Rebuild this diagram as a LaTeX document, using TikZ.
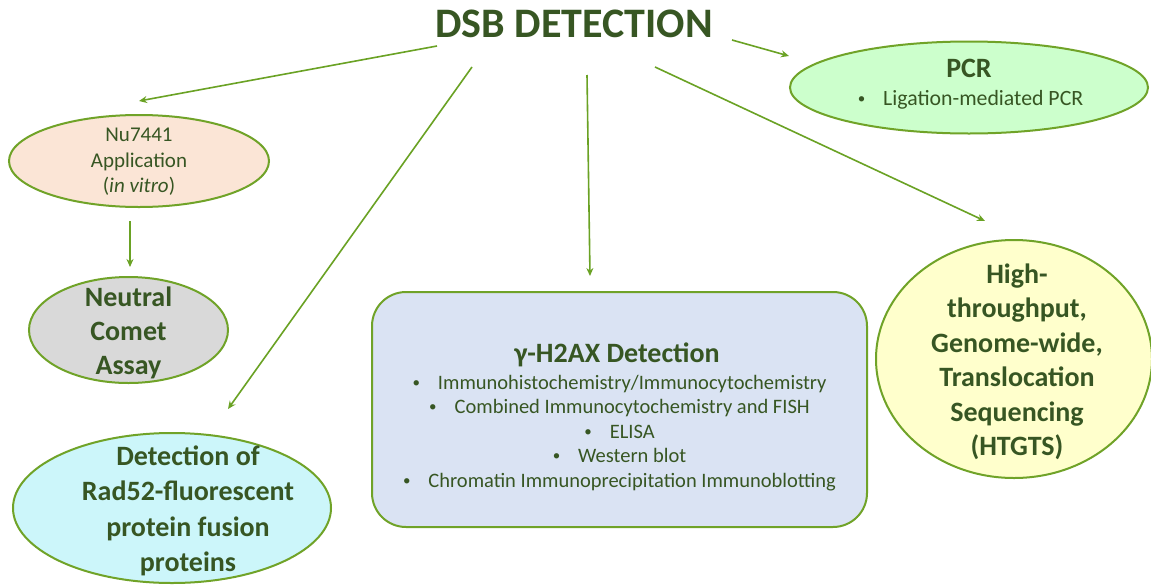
\documentclass[tikz,border=0pt]{standalone}
\usepackage{fontspec}
\setmainfont{Carlito}
\usetikzlibrary{shapes.geometric,arrows.meta,calc}
\definecolor{txtgreen}{RGB}{55,86,35}
\definecolor{edgegreen}{RGB}{112,163,40}
\definecolor{arrowgreen}{RGB}{106,162,36}
\definecolor{pcrfill}{RGB}{204,255,204}
\definecolor{nufill}{RGB}{251,229,214}
\definecolor{cometfill}{RGB}{217,217,217}
\definecolor{radfill}{RGB}{204,246,250}
\definecolor{boxfill}{RGB}{218,227,243}
\definecolor{htfill}{RGB}{255,255,204}
% small list bullet followed by its gap
\newcommand{\itembullet}{\raisebox{1.6pt}{\fontsize{15}{15}\selectfont •}\hspace{18pt}}
\begin{document}
\begin{tikzpicture}[x=1pt, y=-1pt,
  blob/.style={ellipse, draw=edgegreen, line width=2pt, inner sep=0pt},
  bigtxt/.style={font=\bfseries\fontsize{28}{35}\selectfont, align=center, inner sep=0pt, text=txtgreen},
  itemtxt/.style={font=\fontsize{20.5}{24}\selectfont, inner sep=0pt, anchor=base, text=txtgreen},
  link/.style={draw=arrowgreen, line width=1.6pt, -{Stealth[length=8pt,width=7pt]}}]
  \path[use as bounding box, fill=white] (0,0) rectangle (1151,584);

  % shapes
  \node[blob, fill=pcrfill, minimum width=358pt, minimum height=92pt] (pcr) at (969,87.5) {};
  \node[blob, fill=nufill, minimum width=260pt, minimum height=92pt] (nu) at (139,161) {};
  \node[blob, fill=cometfill, minimum width=199pt, minimum height=106pt] (comet) at (128.5,330) {};
  \node[blob, fill=radfill, minimum width=318pt, minimum height=150pt] (rad) at (172,508) {};
  \node[draw=edgegreen, line width=2pt, fill=boxfill, rounded corners=34pt,
        minimum width=495pt, minimum height=235pt, inner sep=0pt] (gbox) at (619.5,409.5) {};
  \node[blob, fill=htfill, minimum width=276pt, minimum height=238pt] (ht) at (1014,359) {};

  % texts
  \node[bigtxt, font=\bfseries\fontsize{42}{50}\selectfont, anchor=base] (title) at (574,37) {DSB DETECTION};
  \node[bigtxt, anchor=base] (pcr-t) at (969,77) {PCR};
  \node[itemtxt, font=\fontsize{21.8}{26}\selectfont] (pcr-i) at (970.5,105) {\itembullet Ligation-mediated PCR};
  \node[align=center, inner sep=0pt, text=txtgreen, font=\fontsize{21}{25.5}\selectfont] (nu-t) at (139,162)
       {Nu7441\\Application\\(\textit{in vitro})};
  \node[bigtxt, font=\bfseries\fontsize{28}{34}\selectfont] (comet-t) at (128.5,332.5) {Neutral\\Comet\\Assay};
  \node[bigtxt, font=\bfseries\fontsize{28}{35.5}\selectfont] (rad-t) at (188,511)
       {Detection of\\Rad52-fluorescent\\protein fusion\\proteins};
  \node[bigtxt, font=\bfseries\fontsize{28}{34.5}\selectfont] (ht-t) at (1017,362)
       {High-\\throughput,\\Genome-wide,\\Translocation\\Sequencing\\(HTGTS)};
  \node[bigtxt, anchor=base] (g-t) at (617,362) {γ-H2AX Detection};
  \node[itemtxt] (g1) at (619.5,389) {\itembullet Immunohistochemistry/Immunocytochemistry};
  \node[itemtxt] (g2) at (619.5,413.5) {\itembullet Combined Immunocytochemistry and FISH};
  \node[itemtxt] (g3) at (619.5,438) {\itembullet ELISA};
  \node[itemtxt] (g4) at (619.5,462.5) {\itembullet Western blot};
  \node[itemtxt] (g5) at (619.5,487) {\itembullet Chromatin Immunoprecipitation Immunoblotting};

  % connectors from the title
  \coordinate (s1) at (437,46);
  \coordinate (s2) at (472,67);
  \coordinate (s3) at (587,75);
  \coordinate (s4) at (655,67);
  \coordinate (s5) at (732,40);
  \draw[link] (s1) -- ([yshift=13pt]nu.north);
  \draw[link] (s2) -- ($(rad.north)+(56,-23)$);
  \draw[link] (s3) -- ($(gbox.north)+(-29.5,-15)$);
  \draw[link] (s4) -- ($(ht.north)+(-29,-18)$);
  \draw[link] (s5) -- ($(pcr.west)+(0,-31.5)$);
  \draw[link] ($(nu.south)+(-9,13)$) -- ($(comet.north)+(1.5,-9)$);
\end{tikzpicture}
\end{document}
